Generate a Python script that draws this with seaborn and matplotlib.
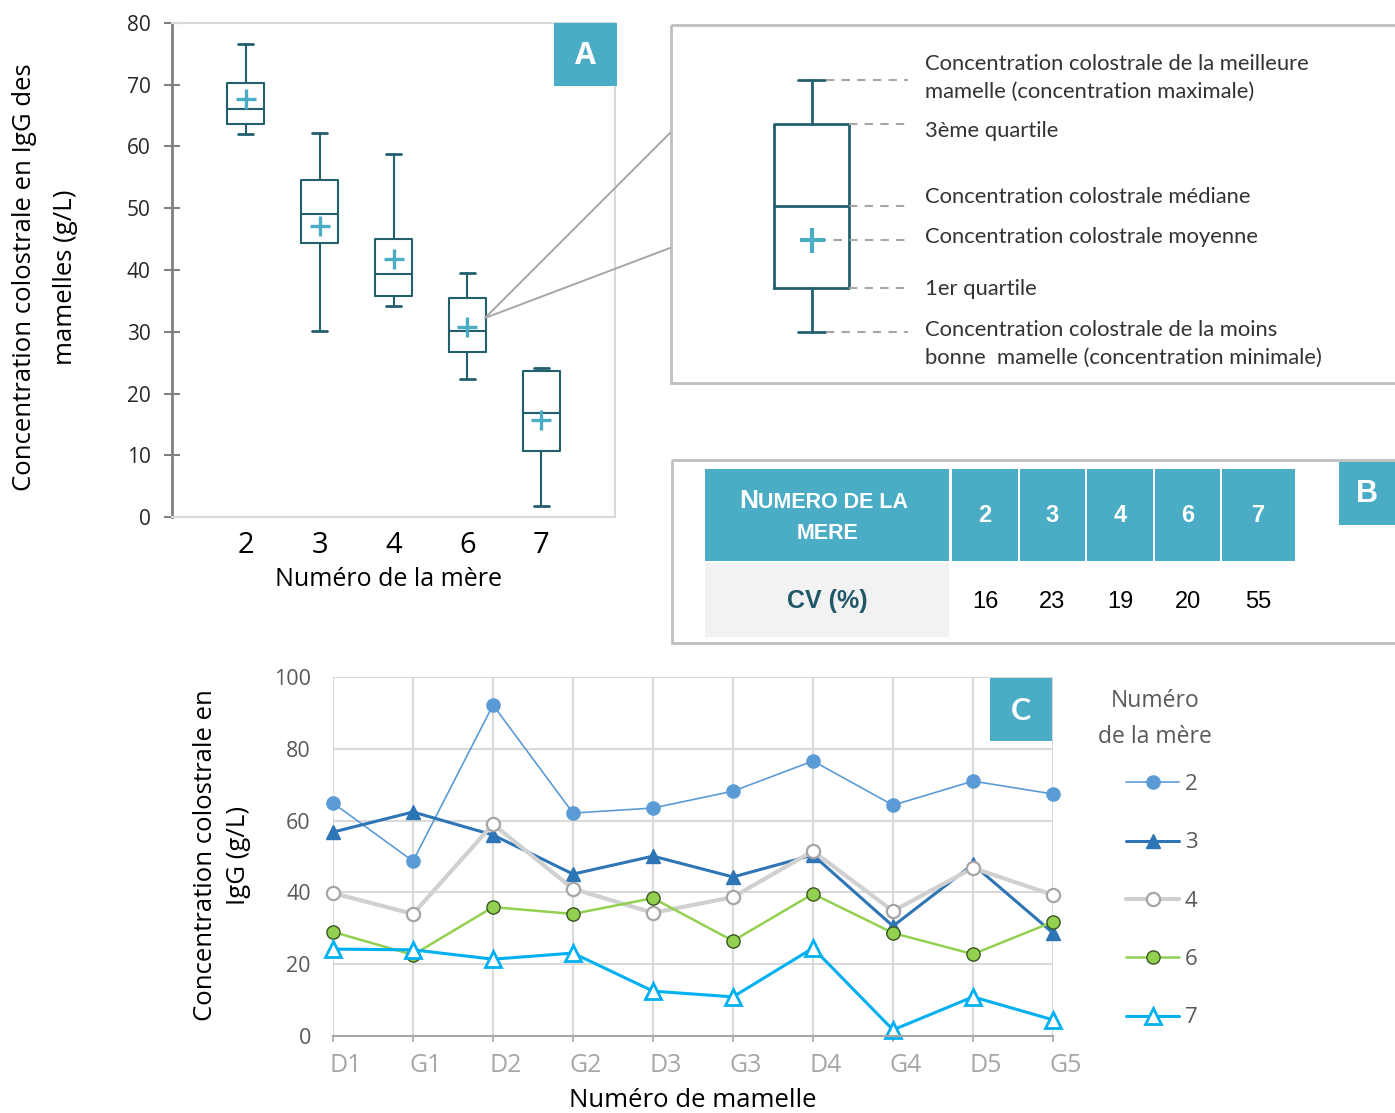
import numpy as np
import pandas as pd
import matplotlib
matplotlib.use("Agg")
import matplotlib.pyplot as plt
import seaborn as sns
from matplotlib.patches import Rectangle
from matplotlib import transforms

sns.set_theme(style="white")
plt.rcParams["font.family"] = ["Open Sans", "DejaVu Sans"]

# ---- Panel A : summary of IgG concentration per mother (g/L)
meres = ["2", "3", "4", "6", "7"]
conc_min = [62.0, 30.2, 34.1, 22.3, 1.8]
conc_q1 = [63.6, 44.3, 35.8, 26.8, 10.7]
conc_med = [66.0, 49.1, 39.4, 30.1, 16.9]
conc_mean = [67.7, 47.1, 41.8, 30.8, 15.7]
conc_q3 = [70.3, 54.6, 45.1, 35.5, 23.6]
conc_max = [76.6, 62.2, 58.8, 39.5, 24.2]

# schematic box used in the explanatory key
schema = dict(whislo=0.0, q1=1.75, mean=3.7, med=5.05, q3=8.35, whishi=10.1)

# ---- Panel B : coefficient of variation per mother
cv_pct = [16, 23, 19, 20, 55]

# ---- Panel C : IgG concentration per teat
mamelles = ["D1", "G1", "D2", "G2", "D3", "G3", "D4", "G4", "D5", "G5"]
igg_2 = [64.9, 48.7, 92.2, 62.1, 63.5, 68.2, 76.6, 64.3, 71.0, 67.4]
igg_3 = [56.8, 62.4, 56.0, 45.1, 50.1, 44.3, 50.4, 30.6, 47.8, 28.7]
igg_4 = [39.8, 34.0, 59.0, 41.0, 34.3, 38.7, 51.5, 34.8, 46.8, 39.3]
igg_6 = [29.0, 22.6, 35.9, 34.0, 38.4, 26.5, 39.6, 28.7, 22.8, 31.8]
igg_7 = [24.2, 24.0, 21.4, 23.1, 12.5, 10.9, 24.5, 1.7, 10.9, 4.5]

TEAL = "#4BACC6"
BOX = "#23606E"
W, H = 1395, 1113


def px_rect(x0, y0, x1, y1):
    return [x0 / W, 1 - y1 / H, (x1 - x0) / W, (y1 - y0) / H]


fig = plt.figure(figsize=(W / 100, H / 100), dpi=100)
fig.patch.set_facecolor("white")

# ================= Panel A =================
axA = fig.add_axes(px_rect(172, 23, 615, 517))
stats = []
for i, m in enumerate(meres):
    stats.append(dict(label=m, whislo=conc_min[i], q1=conc_q1[i], med=conc_med[i],
                      q3=conc_q3[i], whishi=conc_max[i], mean=conc_mean[i], fliers=[]))
line_kw = dict(color=BOX, linewidth=1.5)
axA.bxp(stats, positions=np.arange(len(meres)), widths=0.5, capwidths=0.2,
        showmeans=True, showfliers=False, boxprops=line_kw, whiskerprops=line_kw,
        capprops=dict(color=BOX, linewidth=2), medianprops=line_kw,
        meanprops=dict(marker="+", markersize=15, markeredgewidth=2.4,
                       markeredgecolor=TEAL))
axA.set_xlim(-1, 5)
axA.set_ylim(0, 80)
axA.set_yticks(range(0, 81, 10))
axA.tick_params(axis="x", length=0, labelsize=21, pad=10, labelcolor="black")
axA.tick_params(axis="y", left=True, direction="inout", length=11, width=1.5,
                color="#808080", labelsize=15, pad=10, labelcolor="#262626")
for s in ["top", "right", "bottom"]:
    axA.spines[s].set_color("#D9D9D9")
    axA.spines[s].set_linewidth(1.5)
axA.spines["left"].set_color("#808080")
axA.spines["left"].set_linewidth(2)
axA.set_xlabel("Numéro de la mère", fontsize=18, labelpad=3, color="black")
axA.xaxis.set_label_coords((388 - 172) / 443, -0.102)

# explanatory key box
axS = fig.add_axes(px_rect(774, 80, 849, 332))
axS.bxp([dict(label="", fliers=[], **schema)], positions=[0], widths=1.0, capwidths=0.37,
        showmeans=True, showfliers=False,
        boxprops=dict(color=BOX, linewidth=2), whiskerprops=dict(color=BOX, linewidth=2),
        capprops=dict(color=BOX, linewidth=2), medianprops=dict(color=BOX, linewidth=2),
        meanprops=dict(marker="+", markersize=18, markeredgewidth=3, markeredgecolor=TEAL))
axS.set_xlim(-0.5, 0.5)
axS.set_ylim(0, 10.1)
axS.axis("off")
for artist in axS.get_children():
    artist.set_clip_on(False)
dash_kw = dict(color="#A6A6A6", lw=1.5, ls=(0, (4, 3.5)), clip_on=False)
for key, x0, x1 in [("whishi", 0.19, 1.29), ("q3", 0.5, 1.25), ("med", 0.5, 1.25),
                    ("mean", 0.08, 1.29), ("q1", 0.5, 1.25), ("whislo", 0.19, 1.29)]:
    axS.plot([x0, x1], [schema[key]] * 2, **dash_kw)

# ================= Panel C =================
axC = fig.add_axes(px_rect(333, 677, 1053, 1036))
series = {"2": igg_2, "3": igg_3, "4": igg_4, "6": igg_6, "7": igg_7}
df = pd.DataFrame({
    "pos": np.tile(np.arange(len(mamelles)), len(series)),
    "mere": np.repeat(list(series.keys()), len(mamelles)),
    "igg": np.concatenate([series[k] for k in series]),
})
styles = {
    "2": dict(color="#5B9BD5", lw=1.2, marker="o", ms=9.5, mfc="#5B9BD5", mec="#5B9BD5", mew=1),
    "3": dict(color="#2E75B6", lw=2.2, marker="^", ms=10, mfc="#2E75B6", mec="#2E75B6", mew=1),
    "4": dict(color="#D0D0D0", lw=3.0, marker="o", ms=9.5, mfc="white", mec="#A5A5A5", mew=1.6),
    "6": dict(color="#92D050", lw=1.8, marker="o", ms=9.5, mfc="#92D050", mec="#3B5323", mew=1),
    "7": dict(color="#00B0F0", lw=2.2, marker="^", ms=11.5, mfc="white", mec="#00B0F0", mew=2),
}
for k in series:
    sns.lineplot(data=df[df["mere"] == k], x="pos", y="igg", ax=axC, sort=False,
                 label=k, clip_on=False, **styles[k])
axC.set_xlim(0, 9)
axC.set_ylim(0, 100)
axC.set_yticks(range(0, 101, 20))
axC.set_xticks(range(len(mamelles)), mamelles)
axC.grid(True, color="#D9D9D9", lw=1.5)
axC.set_axisbelow(True)
for s in ["top", "right", "left"]:
    axC.spines[s].set_visible(False)
axC.spines["bottom"].set_color("#A6A6A6")
axC.spines["bottom"].set_linewidth(1.5)
axC.tick_params(axis="x", bottom=True, direction="out", length=4.5, width=1.2,
                color="#A6A6A6", labelsize=18, labelcolor="#A6A6A6", pad=8)
axC.tick_params(axis="y", length=0, labelsize=15.5, labelcolor="#595959", pad=16)
shift = transforms.ScaledTranslation(13 / 100, 0, fig.dpi_scale_trans)
for lab in axC.get_xticklabels():
    lab.set_transform(lab.get_transform() + shift)
axC.set_xlabel("Numéro de mamelle", fontsize=18.5, labelpad=7, color="black")
axC.set_ylabel("")

handles, labels = axC.get_legend_handles_labels()
leg = axC.legend(handles, labels, loc="upper left",
                 bbox_to_anchor=(1126 / W, 1 - 774 / H), bbox_transform=fig.transFigure,
                 frameon=False, fontsize=16, labelspacing=1.68,
                 handlelength=2.4, handletextpad=0.25, borderpad=0, borderaxespad=0,
                 labelcolor="#595959")

# ================= Overlay: frames, table, annotations =================
ov = fig.add_axes([0, 0, 1, 1], zorder=5)
ov.set_xlim(0, W)
ov.set_ylim(H, 0)
ov.axis("off")

ov.text(1155, 719, "Numéro\nde la mère", ha="center", va="center",
        multialignment="center", fontsize=16.5, linespacing=1.65, color="#595959")

ov.text(45, 277, "Concentration colostrale en IgG des\nmamelles (g/L)", rotation=90,
        ha="center", va="center", multialignment="center", fontsize=18.5,
        linespacing=1.85, color="black")
ov.text(222, 855, "Concentration colostrale en\nIgG (g/L)", rotation=90,
        ha="center", va="center", multialignment="center", fontsize=18.5,
        linespacing=1.46, color="black")

# panel tags
for (x0, y0, x1, y1), tag, fam in [((554, 23, 617, 86), "A", "Open Sans"),
                                   ((1339, 462, 1400, 525), "B", "Liberation Sans"),
                                   ((990, 678, 1052, 741), "C", "Lato")]:
    ov.add_patch(Rectangle((x0, y0), x1 - x0, y1 - y0, fc=TEAL, ec="none"))
    ov.text((x0 + min(x1, 1395)) / 2, (y0 + y1) / 2 + 1, tag, color="white",
            fontsize=22, weight="bold", family=fam, ha="center", va="center")

# key frame and callout
ov.add_patch(Rectangle((671, 25), 740, 358, fill=False, ec="#BFBFBF", lw=2))
ov.plot([485, 670], [318, 133], color="#A6A6A6", lw=1.4)
ov.plot([485, 670], [318, 248], color="#A6A6A6", lw=1.4)
key_text = [(64, "Concentration colostrale de la meilleure"),
            (92, "mamelle (concentration maximale)"),
            (131, "3ème quartile"),
            (197, "Concentration colostrale médiane"),
            (237, "Concentration colostrale moyenne"),
            (289, "1er quartile"),
            (330, "Concentration colostrale de la moins"),
            (358, "bonne  mamelle (concentration minimale)")]
for y, txt in key_text:
    ov.text(925, y, txt, family="Lato", fontsize=15.8, color="#333333",
            ha="left", va="center")

# panel B table
ov.add_patch(Rectangle((672, 460), 740, 183, fill=False, ec="#BFBFBF", lw=2))
ov.add_patch(Rectangle((705, 469), 244, 92, fc=TEAL, ec="none"))
ov.add_patch(Rectangle((705, 563), 244, 74, fc="#F2F2F2", ec="none"))
t1 = ov.text(739, 513, "N", family="Liberation Sans", weight="bold", fontsize=19,
             color="white", ha="left", va="bottom")
ov.annotate("UMERO DE LA", xy=(1, 0), xycoords=t1, family="Liberation Sans",
            weight="bold", fontsize=15.5, color="white", ha="left", va="bottom")
ov.text(827, 544, "MERE", family="Liberation Sans", weight="bold", fontsize=15.5,
        color="white", ha="center", va="bottom")
ov.text(827, 601, "CV (%)", family="Liberation Sans", weight="bold", fontsize=18,
        color="#215868", ha="center", va="center")
col_edges = [952, 1020, 1087, 1155, 1222, 1297]
for i, (m, cv) in enumerate(zip(meres, cv_pct)):
    x0, x1 = col_edges[i], col_edges[i + 1] - 2
    ov.add_patch(Rectangle((x0, 469), x1 - x0, 92, fc=TEAL, ec="none"))
    xc = (x0 + x1) / 2
    ov.text(xc, 516, m, family="Liberation Sans", weight="bold", fontsize=17,
            color="white", ha="center", va="center")
    ov.text(xc, 602, str(cv), family="Liberation Sans", fontsize=17,
            color="black", ha="center", va="center")

fig.savefig("out.png", dpi=100)
